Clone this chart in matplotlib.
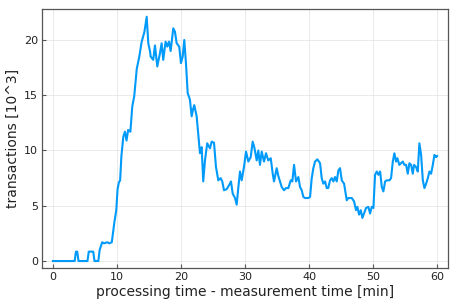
import matplotlib
matplotlib.use("Agg")
import matplotlib.pyplot as plt

t = [0, 3.4, 3.6, 3.8, 4.0, 5.4, 5.6, 6.3, 6.5, 7.1, 7.3, 7.7, 8.0, 8.5, 8.8, 9.2,
     9.6, 9.9, 10.1, 10.3, 10.5, 10.7, 11.0, 11.25, 11.5, 11.75, 12.1, 12.4, 12.7,
     13.1, 13.5, 13.85, 14.3, 14.65, 14.9, 15.16, 15.27, 15.67, 15.94, 16.3, 16.72,
     16.98, 17.23, 17.6, 17.86, 18.13, 18.39, 18.8, 19.06, 19.33, 19.73, 20.0, 20.27,
     20.52, 20.78, 21.05, 21.4, 21.67, 21.92, 22.08, 22.45, 22.97, 23.23, 23.48, 23.75,
     24.1, 24.42, 24.53, 24.8, 25.16, 25.47, 25.83, 26.2, 26.45, 26.72, 27.14, 27.55,
     27.81, 28.08, 28.44, 28.7, 28.95, 29.22, 29.48, 29.84, 30.16, 30.52, 30.89, 31.2,
     31.45, 31.83, 32.08, 32.34, 32.61, 32.97, 33.28, 33.64, 34.02, 34.33, 34.53, 34.95,
     35.2, 35.73, 36.1, 36.4, 36.77, 37.14, 37.39, 37.66, 37.97, 38.33, 38.59, 38.86,
     39.11, 39.38, 39.89, 40.16, 40.42, 40.67, 40.94, 41.3, 41.72, 41.98, 42.23, 42.5,
     42.77, 43.0, 43.28, 43.55, 43.8, 44.06, 44.33, 44.58, 44.84, 45.11, 45.47, 45.89,
     46.14, 46.67, 47.03, 47.34, 47.55, 47.81, 48.08, 48.33, 48.59, 48.9, 49.27, 49.53,
     49.8, 50.05, 50.31, 50.58, 50.83, 51.1, 51.36, 51.61, 51.88, 52.14, 52.55, 52.81,
     53.08, 53.33, 53.59, 53.8, 54.1, 54.38, 54.64, 54.89, 55.16, 55.42, 55.67, 55.94,
     56.2, 56.4, 56.72, 56.98, 57.23, 57.5, 57.77, 58.02, 58.28, 58.55, 58.8, 59.06,
     59.33, 59.58, 59.84, 60.0]
transactions = [0, 0, 0.85, 0.85, 0, 0, 0.85, 0.85, 0, 0, 1.0, 1.7, 1.6, 1.7, 1.6, 1.7,
     3.5, 4.6, 6.5, 7.1, 7.3, 9.5, 11.25, 11.7, 10.9, 11.85, 11.7, 14.0, 14.9,
     17.4, 18.5, 19.8, 20.75, 22.1, 19.7, 19.0, 18.5, 18.2, 19.5, 17.6, 18.8,
     19.7, 18.2, 19.85, 19.4, 19.85, 19.0, 21.05, 20.75, 19.7, 19.4, 17.9, 18.5,
     20.0, 17.9, 15.2, 14.6, 13.1, 13.8, 14.1, 13.1, 9.75, 10.3, 7.2, 9.1,
     10.65, 10.3, 10.2, 10.8, 10.7, 8.5, 7.3, 7.5, 7.2, 6.4, 6.5, 6.9,
     7.2, 6.1, 5.7, 5.1, 6.6, 8.1, 7.3, 8.5, 9.9, 9.0, 9.4, 10.8,
     10.3, 9.1, 10.0, 8.7, 9.9, 9.0, 9.75, 9.1, 9.3, 7.9, 7.2, 8.4,
     7.7, 6.7, 6.4, 6.6, 6.6, 7.3, 7.2, 8.7, 7.2, 7.6, 6.7, 6.4,
     5.8, 5.7, 5.7, 5.8, 7.5, 8.4, 9.0, 9.2, 8.85, 7.5, 7.0, 7.2,
     6.6, 6.6, 7.3, 7.5, 7.2, 7.6, 7.2, 8.2, 8.4, 7.3, 7.0, 5.5,
     5.7, 5.7, 5.4, 4.6, 4.9, 4.2, 4.6, 3.9, 4.3, 4.8, 4.9, 4.3,
     4.9, 4.8, 7.8, 8.1, 7.8, 8.1, 6.7, 6.3, 7.2, 7.3, 7.3, 7.5,
     9.0, 9.75, 9.0, 9.3, 8.7, 8.85, 9.0, 8.7, 8.7, 7.9, 8.85, 8.7,
     7.9, 8.7, 8.5, 8.1, 10.65, 9.6, 7.3, 6.6, 7.0, 7.5, 8.1, 7.9,
     8.7, 9.6, 9.4, 9.5]

xticks = [0, 10, 20, 30, 40, 50, 60]
yticks = [0, 5, 10, 15, 20]

fig = plt.figure(figsize=(4.57, 3.05), dpi=100)
ax = fig.add_axes([0.0919, 0.1213, 0.8884, 0.8492])
ax.plot(t, transactions, color="#009AFA", linewidth=1.5)
ax.set_xlim(-1.7, 61.7)
ax.set_ylim(-0.63, 22.8)
ax.set_xticks(xticks)
ax.set_yticks(yticks)
ax.grid(True, color="#e6e6e6", linewidth=0.6)
ax.set_axisbelow(True)
for s in ax.spines.values():
    s.set_color("#555555")
    s.set_linewidth(0.9)
ax.tick_params(direction="in", length=3, width=0.8, color="#555555",
               labelsize=8, labelcolor="#222222", pad=3)
ax.set_xlabel("processing time - measurement time [min]", fontsize=10, color="#222222", labelpad=2)
ax.set_ylabel("transactions [10^3]", fontsize=10, color="#222222", labelpad=3)
fig.savefig("out.png", dpi=100)
